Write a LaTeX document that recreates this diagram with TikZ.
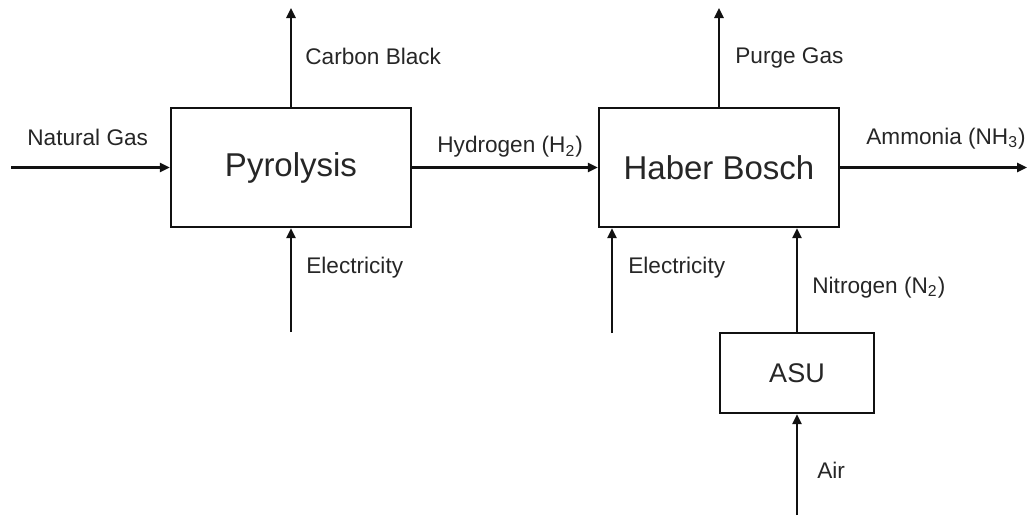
\documentclass[tikz,border=0pt]{standalone}
\usepackage{fontspec}
\setmainfont{Liberation Sans}
\usepackage{xcolor}
\usepackage{tikz}
\usetikzlibrary{positioning,calc,arrows.meta}
\definecolor{ink}{HTML}{111111}
\definecolor{labelgray}{HTML}{262626}
\tikzset{
  % --- process blocks ---
  unit/.style={draw=ink, line width=1.15pt, align=center, inner sep=0pt,
               minimum width=120pt, minimum height=59.5pt,
               font=\fontsize{16.5}{19}\selectfont, text=labelgray},
  smallunit/.style={unit, minimum width=77pt, minimum height=40pt,
                    font=\fontsize{13.5}{16}\selectfont},
  % --- streams ---
  flow/.style={draw=ink, line width=1.05pt, -{Triangle[length=5pt,width=4.6pt]}},
  streamlabel/.style={anchor=base west, inner sep=0pt, text=labelgray,
                      font=\fontsize{11.3}{13}\selectfont},
}
\begin{document}
\begin{tikzpicture}[x=0.5pt, y=-0.5pt]
  \useasboundingbox (0,0) rectangle (1029,515);
  % units
  \node[unit] (pyro) at (291,167.5) {Pyrolysis};
  \node[unit] (hb)   at (719,167.5) {Haber Bosch};
  \node[smallunit] (asu) at (797,373) {ASU};

  % free stream ends
  \coordinate (ngin)   at (11,167.5);
  \coordinate (cbout)  at (291,8);
  \coordinate (el1in)  at (291,332);
  \coordinate (pgout)  at (719,8);
  \coordinate (nh3out) at (1027,167.5);
  \coordinate (el2in)  at (612,333);
  \coordinate (airin)  at (797,515);

  % streams
  \draw[flow] (ngin) -- (pyro.west);
  \draw[flow] (pyro.north) -- (cbout);
  \draw[flow] (el1in) -- (pyro.south);
  \draw[flow] (pyro.east) -- (hb.west);
  \draw[flow] (hb.north) -- (pgout);
  \draw[flow] (hb.east) -- (nh3out);
  \draw[flow] (el2in) -- (el2in |- hb.south);
  \draw[flow] (asu.north) -- (asu.north |- hb.south);
  \draw[flow] (airin) -- (asu.south);

  % labels
  \node[streamlabel] (ngl)  at (27,145.5)  {Natural Gas};
  \node[streamlabel] (cbl)  at (305,64)    {Carbon Black};
  \node[streamlabel] (el1l) at (306,273)   {Electricity};
  \node[streamlabel] (h2l)  at (437,152.5) {Hydrogen (H\textsubscript{2})};
  \node[streamlabel] (pgl)  at (735,63)    {Purge Gas};
  \node[streamlabel] (nh3l) at (866,144)   {Ammonia (NH\textsubscript{3})};
  \node[streamlabel] (el2l) at (628,273)   {Electricity};
  \node[streamlabel] (n2l)  at (812,293)   {Nitrogen (N\textsubscript{2})};
  \node[streamlabel] (airl) at (817,478)   {Air};
\end{tikzpicture}
\end{document}
